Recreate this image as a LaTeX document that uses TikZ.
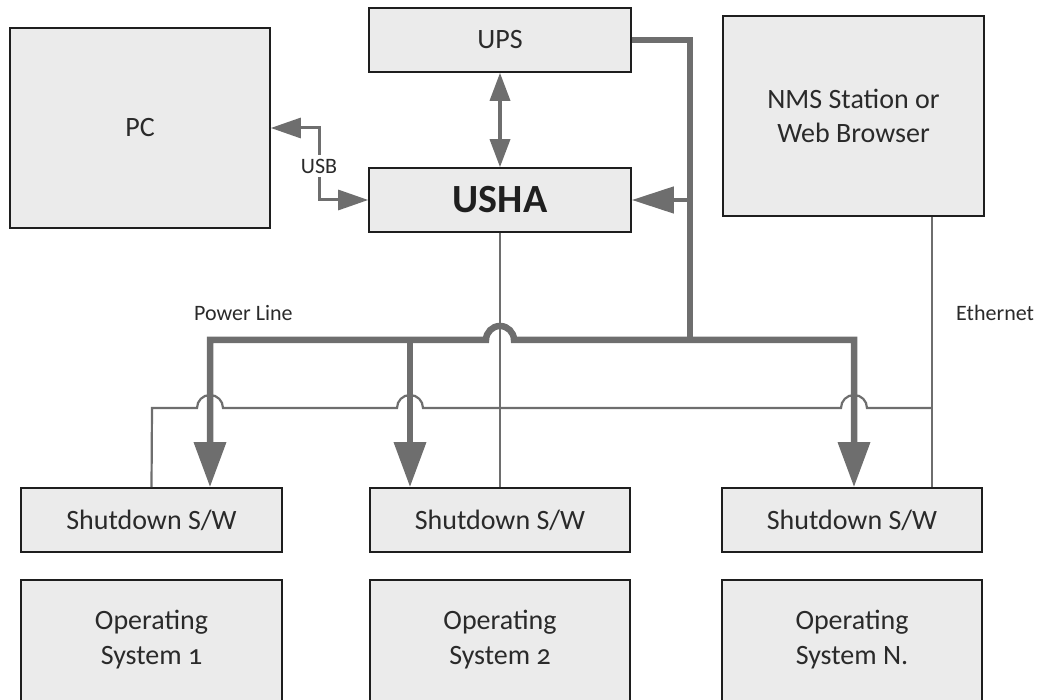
\documentclass[tikz,border=0pt]{standalone}
\usepackage{fontspec}
\setmainfont{Carlito}[Numbers=OldStyle]
\usetikzlibrary{arrows.meta}
\definecolor{boxfill}{HTML}{EBEBEB}
\definecolor{boxline}{HTML}{1E1E1E}
\definecolor{wire}{HTML}{6E6E6E}
\definecolor{txt}{HTML}{2A2A2A}
\tikzset{
  blk/.style={draw=boxline, line width=1.6pt, fill=boxfill, text=txt, inner sep=0pt,
    align=center, font=\fontsize{28}{34}\selectfont},
  ostext/.style={text=txt, align=center, font=\fontsize{28}{35}\selectfont},
  power/.style={draw=wire, line width=6.5pt},
  bigtip/.style={-{Triangle[length=45pt,width=31pt]}},
  thin/.style={draw=wire, line width=2.2pt},
  lbl/.style={text=txt, font=\fontsize{22}{26}\selectfont, inner sep=1pt}
}
\begin{document}
\begin{tikzpicture}[x=1pt,y=-1pt]
\useasboundingbox (0,0) rectangle (1047,700);
\clip (0,0) rectangle (1047,700);
% boxes
\node[blk, minimum width=260pt, minimum height=200pt] (pc) at (140,128) {PC};
\node[blk, minimum width=262pt, minimum height=64pt] (ups) at (500,40) {UPS};
\node[blk, minimum width=262pt, minimum height=64pt, font=\fontsize{40}{46}\selectfont\bfseries, text=black!88] (usha) at (500,200) {USHA};
\node[blk, minimum width=261pt, minimum height=200pt] (nms) at (853.5,116) {NMS Station or\\Web Browser};
\node[blk, minimum width=261pt, minimum height=64pt] (sd1) at (151.5,520) {Shutdown S/W};
\node[blk, minimum width=260pt, minimum height=64pt] (sd2) at (500,520) {Shutdown S/W};
\node[blk, minimum width=260pt, minimum height=64pt] (sd3) at (852,520) {Shutdown S/W};
\node[blk, minimum width=261pt, minimum height=140pt] (os1) at (151.5,650) {};
\node[blk, minimum width=260pt, minimum height=140pt] (os2) at (500,650) {};
\node[blk, minimum width=260pt, minimum height=140pt] (os3) at (852,650) {};
\node[ostext] (os1t) at (151.5,640) {Operating\\System 1};
\node[ostext] (os2t) at (500,640) {Operating\\System 2};
\node[ostext] (os3t) at (852,640) {Operating\\System N.};
% coordinates
\coordinate (upsr) at (690,40);
\coordinate (junc) at (690,340);
\coordinate (ushab) at (690,200);
% Ethernet (thin)
\draw[thin] (sd1.north) -- (152,408) -- (197,408)
  .. controls (197,400.8) and (202.8,395) .. (210,395)
  .. controls (217.2,395) and (223,400.8) .. (223,408)
  -- (397,408)
  .. controls (397,400.8) and (402.8,395) .. (410,395)
  .. controls (417.2,395) and (423,400.8) .. (423,408)
  -- (841,408)
  .. controls (841,400.8) and (846.8,395) .. (854,395)
  .. controls (861.2,395) and (867,400.8) .. (867,408)
  -- (932,408);
\draw[thin] (nms.south -| 932,0) -- (sd3.north -| 932,0);
% USHA to shutdown 2
\draw[thin] (usha.south) -- (sd2.north);
% UPS <-> USHA
\draw[draw=wire, line width=3.5pt, {Triangle[length=28pt,width=20pt]}-{Triangle[length=28pt,width=20pt]}] (ups.south) -- (usha.north);
% USB
\node[lbl, fill=white, inner ysep=4pt] (usb) at (319,166) {USB};
\draw[draw=wire, line width=3pt, -{Triangle[length=30pt,width=20pt]}] (usb.north) -- (319,128) -- (pc.east |- 0,128);
\draw[draw=wire, line width=3pt, -{Triangle[length=30pt,width=20pt]}] (usb.south) -- (319,200) -- (usha.west);
% power
\draw[power] (ups.east |- upsr) -- (upsr) -- (junc);
\draw[power, -{Triangle[length=42pt,width=26pt]}, line width=4.5pt] (ushab) -- (usha.east);
\draw[power, {Triangle[length=45pt,width=31pt]}-{Triangle[length=45pt,width=31pt]}]
  (sd1.north -| 210,0) -- (210,340) -- (486,340)
  .. controls (486,332.3) and (492.3,326) .. (500,326)
  .. controls (507.7,326) and (514,332.3) .. (514,340)
  -- (854,340) -- (sd3.north -| 854,0);
\draw[power, bigtip] (410,340) -- (sd2.north -| 410,0);
% labels
\node[lbl, anchor=west] (pl) at (193,313) {Power Line};
\node[lbl, anchor=west] (eth) at (955,313) {Ethernet};
\end{tikzpicture}
\end{document}
